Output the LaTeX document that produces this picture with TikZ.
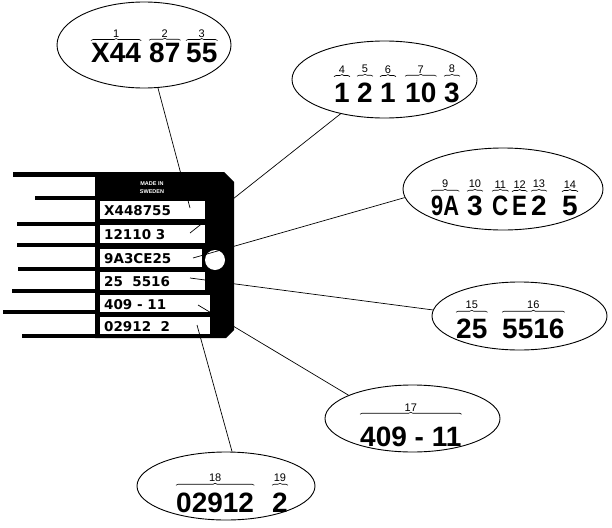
\documentclass[tikz,border=0pt]{standalone}
\usepackage{fontspec}
\setmainfont{Liberation Sans}
\newfontfamily\boxfont{DejaVu Sans}
\usetikzlibrary{shapes.geometric,decorations.pathreplacing}
\newcommand\grp[6]{%
  \node[big] (#1) at (#2,#3) {#4};
  \draw[brc] ([yshift=#5pt]#1.north west) -- ([yshift=#5pt]#1.north east) coordinate[midway] (#1m);
  \node[lbl, anchor=south] (#1l) at ([yshift=3pt]#1m) {#6};
}
\begin{document}
\begin{tikzpicture}[x=1pt,y=-1pt,
  big/.style={inner sep=0pt, anchor=base west, font=\fontsize{28}{28}\selectfont\bfseries},
  lbl/.style={inner sep=0pt, font=\fontsize{11}{11}\selectfont},
  brc/.style={decorate, decoration={brace, amplitude=2pt}, line width=0.6pt},
  ell/.style={draw, ellipse, line width=0.9pt, inner sep=0pt},
  conn/.style={line width=0.7pt},
  pbox/.style={fill=white},
  ptext/.style={inner sep=0pt, anchor=base west, font=\boxfont\fontsize{13.5}{13.5}\selectfont\bfseries},
  tinytext/.style={inner sep=0pt, text=white, font=\fontsize{5.5}{5.5}\selectfont\bfseries},
]
\useasboundingbox (0,0) rectangle (612,527);
% plate
\fill (95,172) -- (224,172) -- (234,182) -- (234,330) -- (226,338) -- (95,338) -- cycle;
\fill (13,172) rectangle (96,177);
\fill (35,195.5) rectangle (96,199.5);
\fill (17,221.5) rectangle (96,225.5);
\fill (17,243) rectangle (96,247);
\fill (18,266.5) rectangle (96,270.5);
\fill (12,288.5) rectangle (96,292.5);
\fill (3,309.5) rectangle (96,313.5);
\fill (22,334) rectangle (96,338);
\node[tinytext] (made) at (152,184) {MADE IN};
\node[tinytext] (swe) at (152,191.5) {SWEDEN};
\fill[pbox] (100,201) rectangle (205,219);
\fill[pbox] (100,225) rectangle (205,243);
\fill[pbox] (100,249) rectangle (202,267);
\fill[pbox] (100,272) rectangle (205,290);
\fill[pbox] (100,295) rectangle (210,312);
\fill[pbox] (100,317) rectangle (210,334);
\fill[white] (215,260) circle (10);
\node[ptext] (t1) at (104,215) {X448755};
\node[ptext] (t2) at (104,239) {12110 3};
\node[ptext] (t3) at (104,263) {9A3CE25};
\node[ptext] (t4) at (104,286) {25\ \ 5516};
\node[ptext] (t5) at (104,309) {409 - 11};
\node[ptext] (t6) at (104,331) {02912\ \ 2};
% ellipses
\node[ell, minimum width=174pt, minimum height=86pt] (e1) at (144,45) {};
\node[ell, minimum width=185pt, minimum height=77pt] (e2) at (384.5,79.5) {};
\node[ell, minimum width=200pt, minimum height=82pt] (e3) at (503,189) {};
\node[ell, minimum width=175pt, minimum height=68pt] (e4) at (519.5,316) {};
\node[ell, minimum width=175pt, minimum height=67pt] (e5) at (412.5,418.5) {};
\node[ell, minimum width=178pt, minimum height=68pt] (e6) at (226,486) {};
% groups
\grp{a1}{91}{63}{X44}{3}{1}
\grp{a2}{149}{63}{87}{3}{2}
\grp{a3}{186}{63}{55}{3}{3}
\grp{b1}{334}{102}{1}{6}{4}
\grp{b2}{357}{102}{2}{6}{5}
\grp{b3}{380}{102}{1}{6}{6}
\grp{b4}{405}{102}{10}{6}{7}
\grp{b5}{444}{102}{3}{6}{8}
\grp{c1}{431}{215}{\scalebox{0.78}[1]{9A}}{4}{9}
\grp{c2}{467}{215}{3}{4}{10}
\grp{c3}{492}{215}{\scalebox{0.8}[1]{C}}{4}{11}
\grp{c4}{512}{215}{\scalebox{0.8}[1]{E}}{4}{12}
\grp{c5}{531}{215}{2}{4}{13}
\grp{c6}{562}{215}{5}{4}{14}
\grp{d1}{456}{338}{25}{6}{15}
\grp{d2}{502}{338}{5516}{6}{16}
\grp{f1}{360}{446}{409 - 11}{12}{17}
\grp{g1}{176}{512}{02912}{7}{18}
\grp{g2}{272}{512}{2}{7}{19}
% connectors
\coordinate (p1) at (190,208);
\coordinate (p2) at (190,233);
\coordinate (p3) at (193,258);
\coordinate (p4) at (190,278);
\coordinate (p5) at (198,305);
\coordinate (p6) at (197,325);
\draw[conn] (p1) -- (e1.-72);
\draw[conn] (p2) -- (e2.218);
\draw[conn] (p3) -- (e3.185);
\draw[conn] (p4) -- (e4.176);
\draw[conn] (p5) -- (e5.160);
\draw[conn] (p6) -- (e6.80);
\end{tikzpicture}
\end{document}
